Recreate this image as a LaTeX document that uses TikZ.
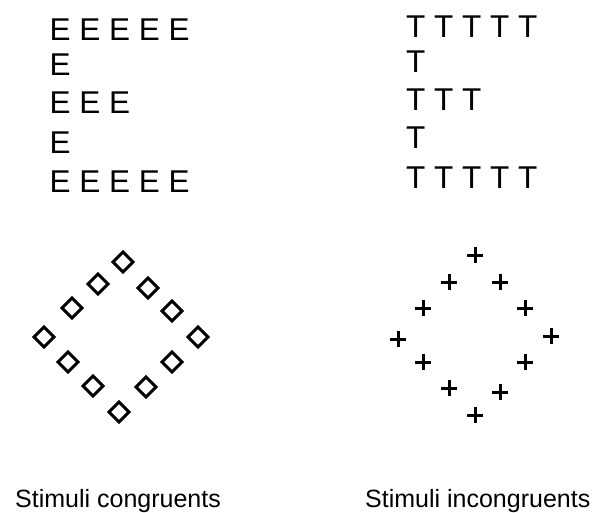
\documentclass[tikz,border=0pt]{standalone}
\usepackage{fontspec}
\setmainfont{Liberation Sans}
\begin{document}
\begin{tikzpicture}[x=1pt,y=-1pt,
  letters/.style={anchor=base west, inner sep=0pt, font=\fontsize{31.5}{31.5}\selectfont},
  capt/.style={anchor=base west, inner sep=0pt, font=\fontsize{25}{25}\selectfont},
  dia/.style={line width=2.9pt, line join=miter},
  crossmark/.style={line width=3pt}]
\useasboundingbox (0,0) rectangle (597,512);
% E letters
\node[letters] (e1) at (49.5,40) {E E E E E};
\node[letters] (e2) at (49.5,75) {E};
\node[letters] (e3) at (49.5,113) {E E E};
\node[letters] (e4) at (49.5,153) {E};
\node[letters] (e5) at (49.5,192) {E E E E E};
% T letters
\node[letters] (t1) at (406,37) {T T T T T};
\node[letters] (t2) at (406,72) {T};
\node[letters] (t3) at (406,110) {T T T};
\node[letters] (t4) at (406,148) {T};
\node[letters] (t5) at (406,188) {T T T T T};
% diamonds
\foreach \n/\x/\y in {1/123/262, 2/148/288, 3/172/311, 4/198/337, 5/172/362, 6/146/387,
                      7/119/412, 8/93/386, 9/68/362, 10/44/337, 11/72/308, 12/98/284}
{
  \coordinate (d\n) at (\x,\y);
  \draw[dia] ([yshift=-10pt]d\n) -- ([xshift=10pt]d\n) -- ([yshift=10pt]d\n)
             -- ([xshift=-10pt]d\n) -- cycle;
}
% crosses
\foreach \n/\x/\y in {1/475/255, 2/500/282, 3/525/308, 4/551/336, 5/525/362, 6/500/392,
                      7/475/415, 8/449/388, 9/423/362, 10/398/339, 11/423/308, 12/449/282}
{
  \coordinate (c\n) at (\x,\y);
  \draw[crossmark] ([xshift=-8pt]c\n) -- ([xshift=8pt]c\n)
                   ([yshift=-8pt]c\n) -- ([yshift=8pt]c\n);
}
% captions
\node[capt] (cap1) at (15,507) {Stimuli congruents};
\node[capt] (cap2) at (365,507) {Stimuli incongruents};
\end{tikzpicture}
\end{document}
